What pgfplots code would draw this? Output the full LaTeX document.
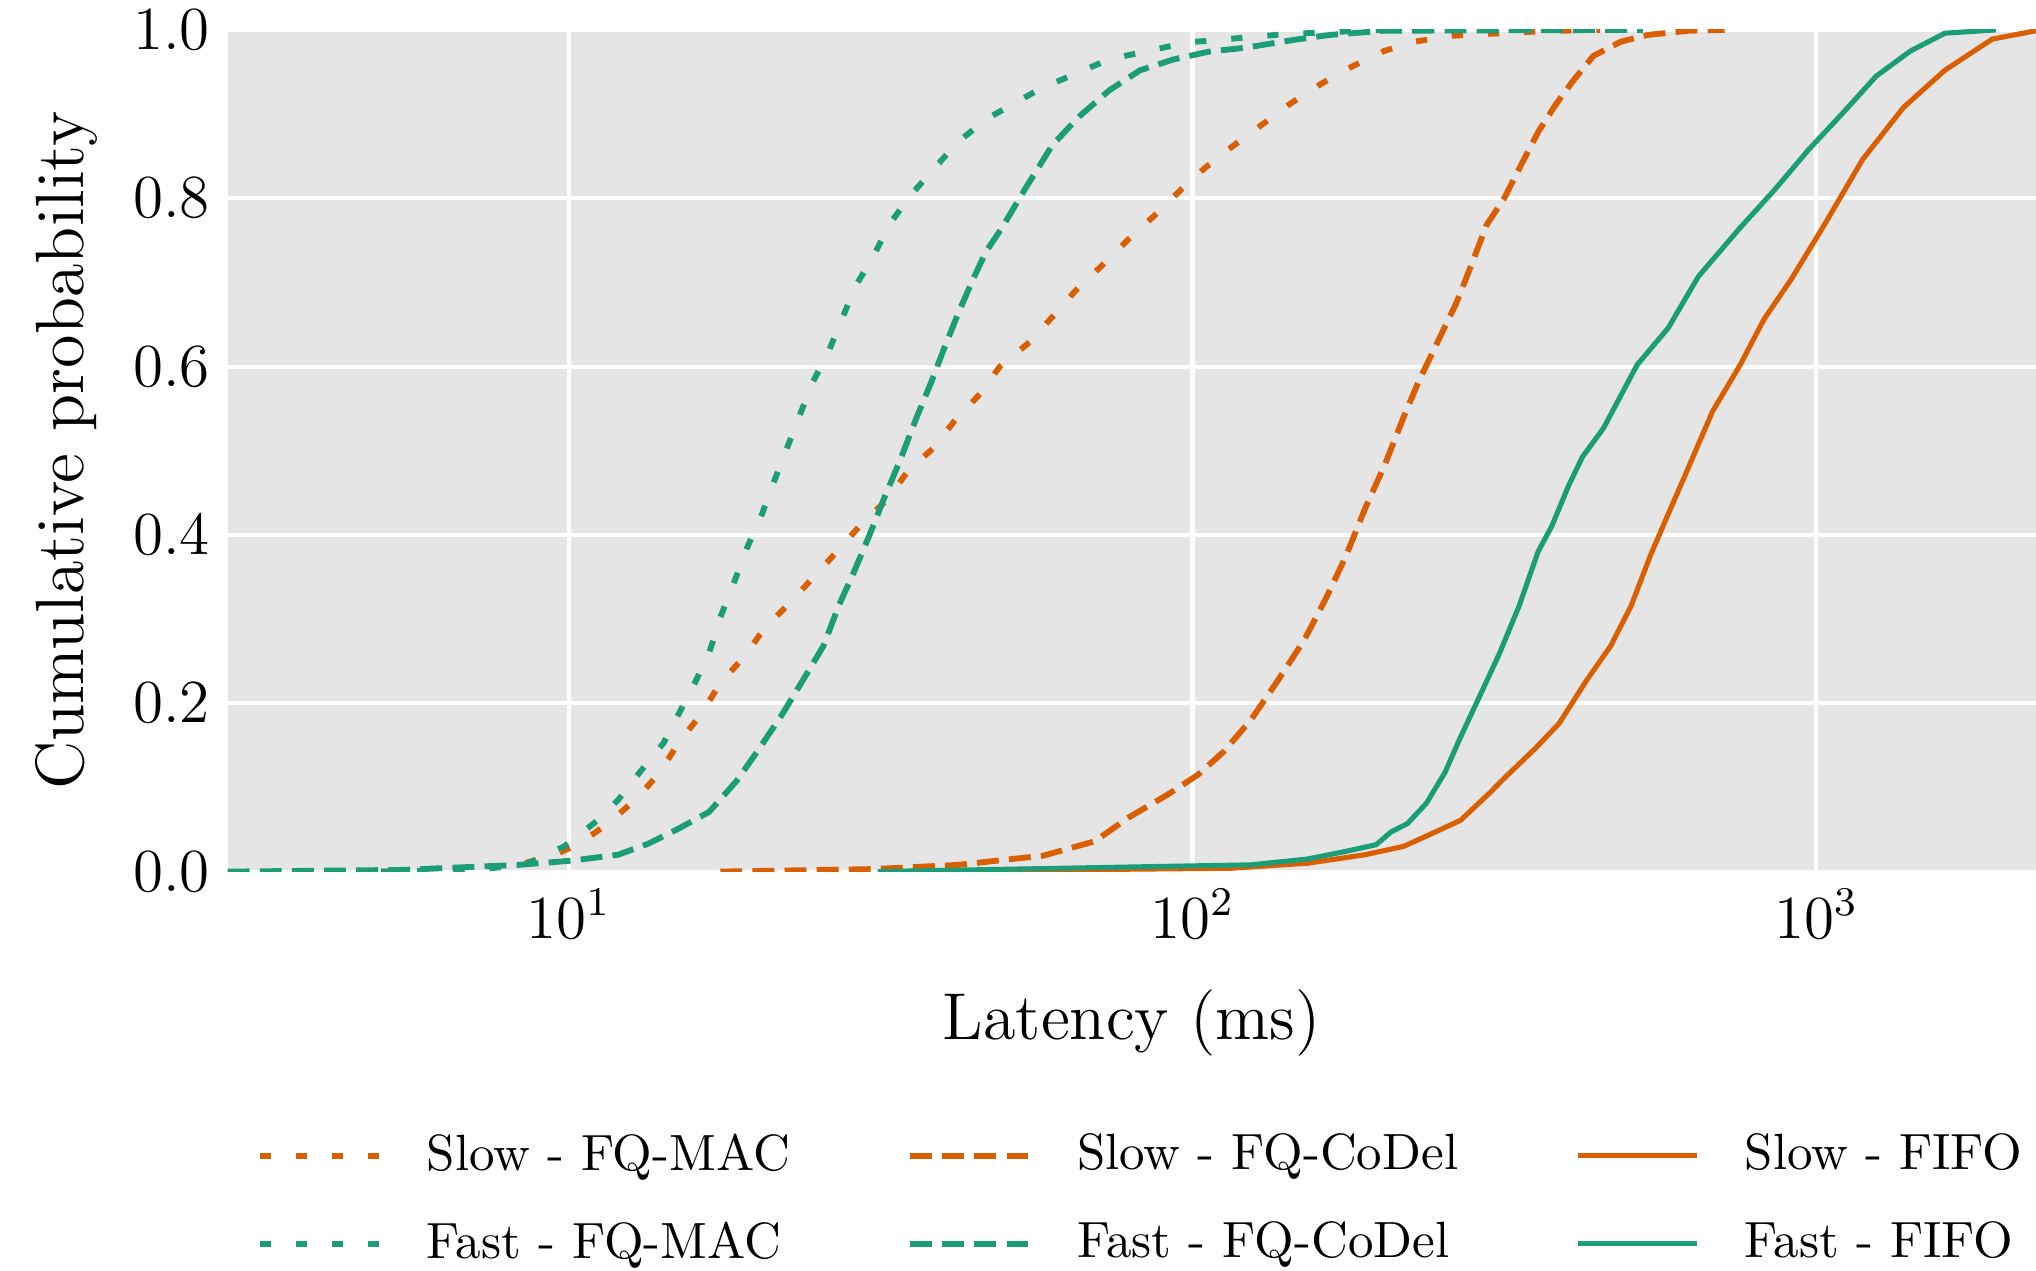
\documentclass[border=0pt]{standalone}
\usepackage{pgfplots}
\pgfplotsset{compat=1.18}

\definecolor{slow}{HTML}{D95F02}
\definecolor{fast}{HTML}{1B9E77}
\definecolor{bggray}{HTML}{E5E5E5}

\tikzset{
  dotline/.style={line width=1.15pt, dash pattern=on 2.2pt off 4.9pt},
  dashline/.style={line width=1.15pt, dash pattern=on 4.3pt off 2pt},
}

\begin{document}
\begin{tikzpicture}[trim axis right]
\begin{axis}[
  scale only axis,
  width=354.7pt, height=165.1pt,
  xmode=log, xmin=2.84, xmax=2250,
  ymin=0, ymax=1,
  xtick={10,100,1000},
  ytick={0,0.2,0.4,0.6,0.8,1.0},
  yticklabel style={/pgf/number format/fixed, /pgf/number format/fixed zerofill,
    /pgf/number format/precision=1, inner ysep=2pt},
  minor xtick={},
  major tick length=0pt, minor tick length=0pt,
  axis line style={draw=none},
  axis background/.style={fill=bggray},
  grid=major,
  major grid style={white, line width=0.8pt},
  tick label style={font=\fontsize{12}{14}\selectfont},
  label style={font=\fontsize{13}{15}\selectfont},
  xlabel={Latency (ms)},
  ylabel={Cumulative probability},
  xlabel style={at={(axis description cs:0.5,-0.18)}, anchor=center},
  ylabel style={at={(axis description cs:-0.089,0.5)}, anchor=center, inner ysep=7pt,
    font=\fontsize{13.4}{15}\selectfont},
  legend columns=3,
  legend image code/.code={\draw[#1] (0pt,0pt) -- (23.4pt,0pt);},
  legend style={at={(axis description cs:0.511,-0.304)}, anchor=north, draw=none, fill=none,
    font=\fontsize{10}{12}\selectfont, inner sep=0pt, row sep=6.6pt,
    nodes={inner xsep=4.8pt, inner ysep=1pt},
    /tikz/every odd column/.append style={column sep=4pt},
    /tikz/every even column/.append style={column sep=18.2pt}},
  legend cell align=left,
  every axis plot/.append style={line width=1pt},
]
% Slow - FQ-MAC
\addplot[slow, dotline] coordinates {
(5,0)(7,0.002)(8.5,0.01)(9.5,0.02)(10.4,0.033)(11.6,0.058)(12.9,0.088)(14.0,0.118)
(15.0,0.153)(16.3,0.187)(17.5,0.224)(19.1,0.255)(20.6,0.289)(22.6,0.319)(24.7,0.35)
(26.9,0.38)(29.3,0.411)(32.4,0.442)(35.0,0.476)(38.4,0.503)(41.7,0.537)(45.7,0.568)
(49.1,0.6)(54.8,0.629)(59.6,0.659)(64.9,0.69)(71.6,0.72)(78.9,0.751)(86.5,0.778)
(95.5,0.809)(104.7,0.836)(115.6,0.861)(129,0.887)(142.6,0.911)(160,0.935)(178.6,0.955)
(203,0.975)(227,0.986)(261,0.993)(292,0.995)(355,0.998)(434,1.0)(450,1.0)};
\addlegendentry{Slow - FQ-MAC}
% Slow - FQ-CoDel
\addplot[slow, dashline] coordinates {
(17.5,0)(30.8,0.003)(42.1,0.008)(57.7,0.019)(69.7,0.036)(78.9,0.064)(91,0.091)
(102,0.115)(112,0.142)(124,0.18)(137,0.227)(151,0.275)(164,0.326)(176,0.374)
(189,0.431)(203,0.482)(218,0.54)(230,0.581)(247,0.629)(265,0.676)(281,0.724)
(296,0.768)(316,0.80)(336,0.839)(359,0.88)(382,0.911)(406,0.938)(439,0.969)
(486,0.986)(537,0.994)(624,0.999)(713,1.0)};
\addlegendentry{Slow - FQ-CoDel}
% Slow - FIFO
\addplot[slow] coordinates {
(31.3,0)(115,0.004)(153,0.01)(189,0.02)(218,0.03)(240,0.044)(269,0.061)(301,0.095)
(313,0.108)(354,0.146)(387,0.176)(428,0.227)(468,0.268)(505,0.316)(543,0.377)
(579,0.425)(617,0.472)(682,0.547)(755,0.602)(824,0.656)(912,0.704)(1035,0.771)
(1186,0.846)(1380,0.908)(1607,0.952)(1914,0.989)(2249,0.999)};
\addlegendentry{Slow - FIFO}
% Fast - FQ-MAC
\addplot[fast, dotline] coordinates {
(5,0)(7,0.002)(8.5,0.008)(9.84,0.03)(11.0,0.058)(12.0,0.085)(13.0,0.118)(14.2,0.153)
(15.0,0.187)(16.0,0.227)(16.8,0.26)(17.5,0.302)(18.4,0.343)(19.3,0.384)(20.3,0.42)
(21.3,0.462)(22.3,0.50)(23.4,0.54)(24.6,0.581)(26.1,0.618)(27.4,0.656)(28.9,0.697)
(30.8,0.731)(32.6,0.768)(35.2,0.802)(38.6,0.836)(42.1,0.867)(46.7,0.894)(57,0.93)
(73.5,0.965)(98,0.985)(141,0.995)(202,1.0)(350,1.0)};
\addlegendentry{Fast - FQ-MAC}
% Fast - FQ-CoDel
\addplot[fast, dashline] coordinates {
(2.84,0)(5.4,0.002)(8.3,0.008)(10.1,0.013)(12.0,0.02)(13.4,0.033)(15.0,0.051)
(16.8,0.071)(18.6,0.108)(20.2,0.146)(22.0,0.187)(23.9,0.231)(25.6,0.268)(27.1,0.316)
(28.7,0.357)(30.4,0.401)(32.1,0.445)(34.0,0.489)(36.0,0.537)(38.1,0.581)(40.0,0.622)
(42.1,0.663)(44.5,0.704)(46.7,0.737)(49.5,0.765)(54.0,0.812)(59.6,0.863)(65.8,0.897)
(73.5,0.928)(82.4,0.952)(93.3,0.965)(106,0.974)(122,0.979)(145,0.988)(166,0.994)
(203,0.999)(527,1.0)};
\addlegendentry{Fast - FQ-CoDel}
% Fast - FIFO
\addplot[fast] coordinates {
(31.3,0)(87,0.006)(124,0.008)(153,0.015)(176,0.024)(197,0.032)(208,0.047)(221,0.057)
(237,0.081)(254,0.118)(269,0.16)(288,0.207)(310,0.258)(334,0.316)(358,0.38)
(377,0.411)(401,0.459)(422,0.493)(456,0.527)(516,0.602)(579,0.646)(647,0.707)
(755,0.765)(855,0.809)(970,0.857)(1102,0.901)(1247,0.945)(1416,0.975)(1607,0.996)
(1941,1.0)};
\addlegendentry{Fast - FIFO}
\end{axis}
\end{tikzpicture}
\end{document}
